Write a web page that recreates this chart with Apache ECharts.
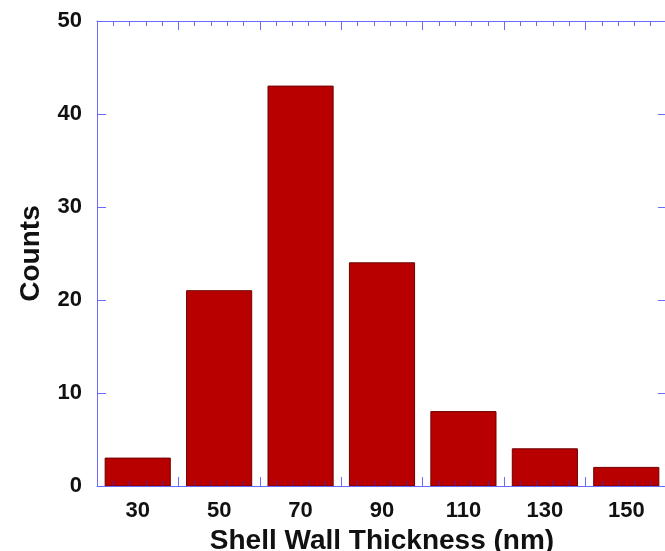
<!DOCTYPE html>
<html>
<head>
<meta charset="utf-8">
<script src="https://cdn.jsdelivr.net/npm/echarts@6/dist/echarts.min.js"></script>
<style>
  html, body { margin: 0; padding: 0; background: #fff; }
  #chart { width: 665px; height: 551px; }
</style>
</head>
<body>
<div id="chart"></div>
<script>
// Histogram of shell wall thickness: bin centres (nm) and counts per bin
const binCenters = [30, 50, 70, 90, 110, 130, 150];
const counts = [3, 21, 43, 24, 8, 4, 2];
const binHalfWidth = 8;          // bar spans centre ± 8 nm (bins 20 nm apart)
const xTickLabels = [30, 50, 70, 90, 110, 130, 150];
const yTickLabels = [0, 10, 20, 30, 40, 50];

const axisBlue = '#6a6aff';
const labelFont = { fontFamily: 'Liberation Sans, Arial, sans-serif', fontWeight: 'bold', color: '#111' };

const chart = echarts.init(document.getElementById('chart'), null, { renderer: 'canvas' });

const histData = binCenters.map((c, i) => [c - binHalfWidth, c + binHalfWidth, counts[i]]);

// frame axes share one look: blue line, inward ticks
function frameLine() {
  return { show: true, onZero: false, lineStyle: { color: axisBlue, width: 1 } };
}
function frameTick() {
  return { show: true, inside: true, length: 9, lineStyle: { color: axisBlue } };
}

chart.setOption({
  animation: false,
  backgroundColor: '#fff',
  grid: { left: 97, right: -2, top: 21, bottom: 65, containLabel: false, outerBoundsMode: 'none' },
  xAxis: [
    {
      type: 'value', position: 'bottom', min: 20, max: 160, interval: 20, z: 5,
      name: 'Shell Wall Thickness (nm)', nameLocation: 'middle', nameGap: 38,
      nameTextStyle: Object.assign({ fontSize: 28 }, labelFont),
      axisLine: frameLine(),
      axisTick: frameTick(),
      minorTick: { show: true, splitNumber: 5, length: 5, lineStyle: { color: '#5a1e8c' } },
      axisLabel: Object.assign({ show: true, fontSize: 22, margin: 14, customValues: xTickLabels }, labelFont),
      splitLine: { show: false }
    },
    {
      type: 'value', position: 'top', min: 20, max: 160, interval: 20, z: 5,
      axisLine: frameLine(),
      axisTick: frameTick(),
      minorTick: { show: true, splitNumber: 5, length: 5, lineStyle: { color: axisBlue } },
      axisLabel: { show: false },
      splitLine: { show: false }
    }
  ],
  yAxis: [
    {
      type: 'value', position: 'left', min: 0, max: 50, interval: 10, z: 5,
      name: 'Counts', nameLocation: 'middle', nameGap: 52, nameRotate: 90,
      nameTextStyle: Object.assign({ fontSize: 28 }, labelFont),
      axisLine: frameLine(),
      axisTick: frameTick(),
      axisLabel: Object.assign({ show: true, fontSize: 22, margin: 15, customValues: yTickLabels }, labelFont),
      splitLine: { show: false }
    },
    {
      type: 'value', position: 'right', min: 0, max: 50, interval: 10, z: 5,
      axisLine: frameLine(),
      axisTick: frameTick(),
      axisLabel: { show: false },
      splitLine: { show: false }
    }
  ],
  series: [{
    type: 'custom',
    xAxisIndex: 0, yAxisIndex: 0,
    data: histData,
    encode: { x: [0, 1], y: 2 },
    renderItem: function (params, api) {
      const p0 = api.coord([api.value(0), 0]);
      const p1 = api.coord([api.value(1), api.value(2)]);
      return {
        type: 'rect',
        shape: { x: p0[0], y: p1[1], width: p1[0] - p0[0], height: p0[1] - p1[1] },
        style: { fill: '#b80000', stroke: '#6e0000', lineWidth: 1 }
      };
    }
  }]
});
</script>
</body>
</html>
